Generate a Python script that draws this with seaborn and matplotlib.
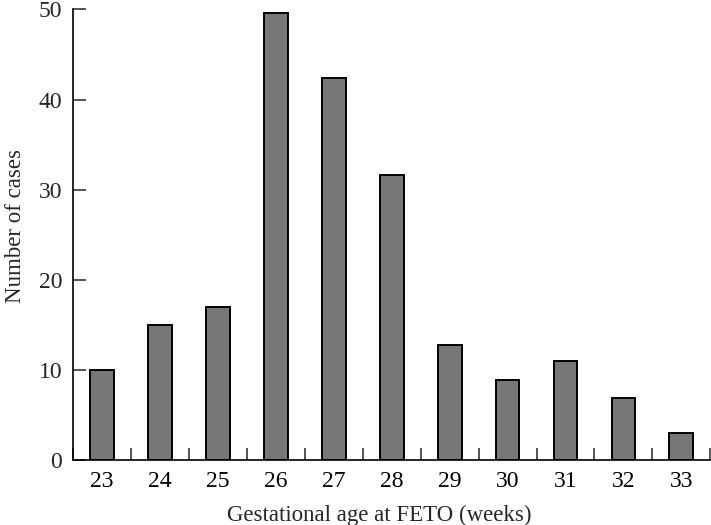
import matplotlib
matplotlib.use('Agg')
import matplotlib.pyplot as plt
import seaborn as sns
import pandas as pd
import numpy as np

# values
weeks = ['23', '24', '25', '26', '27', '28', '29', '30', '31', '32', '33']
cases = [10, 15, 17, 49.6, 42.4, 31.6, 12.8, 8.9, 11, 6.9, 3]

df = pd.DataFrame({'week': weeks, 'cases': cases})

sns.set_style('ticks')
plt.rcParams['font.family'] = ['Liberation Serif', 'DejaVu Serif']

fig = plt.figure(figsize=(7.11, 5.25), dpi=100)
ax = fig.add_axes([0.103, 0.124, 0.896, 0.858])

sns.barplot(data=df, x='week', y='cases', color='#777777', saturation=1,
            width=0.41, edgecolor='black', linewidth=1.4, ax=ax)

ax.set_xlim(-0.5, 10.5)
ax.set_ylim(0, 50)
ax.set_yticks([0, 10, 20, 30, 40, 50])

# tick marks sit between the bars and point inward
ax.set_xticks(np.arange(-0.5, 11, 1), minor=True)
ax.tick_params(axis='x', which='major', length=0, labelsize=17, pad=8,
               colors='black')
ax.tick_params(axis='x', which='minor', direction='in', length=9, width=1.1)
ax.tick_params(axis='y', direction='in', length=9, width=1.1, labelsize=17,
               pad=8)

ax.set_xlabel('Gestational age at FETO (weeks)', fontsize=16.5, labelpad=9)
ax.set_ylabel('Number of cases', fontsize=16.5, labelpad=9)
ax.xaxis.label.set_x(0.48)
ax.yaxis.label.set_y(0.52)

sns.despine(ax=ax)
for s in ['left', 'bottom']:
    ax.spines[s].set_linewidth(1.2)
    ax.spines[s].set_color('black')

fig.savefig('out.png', dpi=100)
